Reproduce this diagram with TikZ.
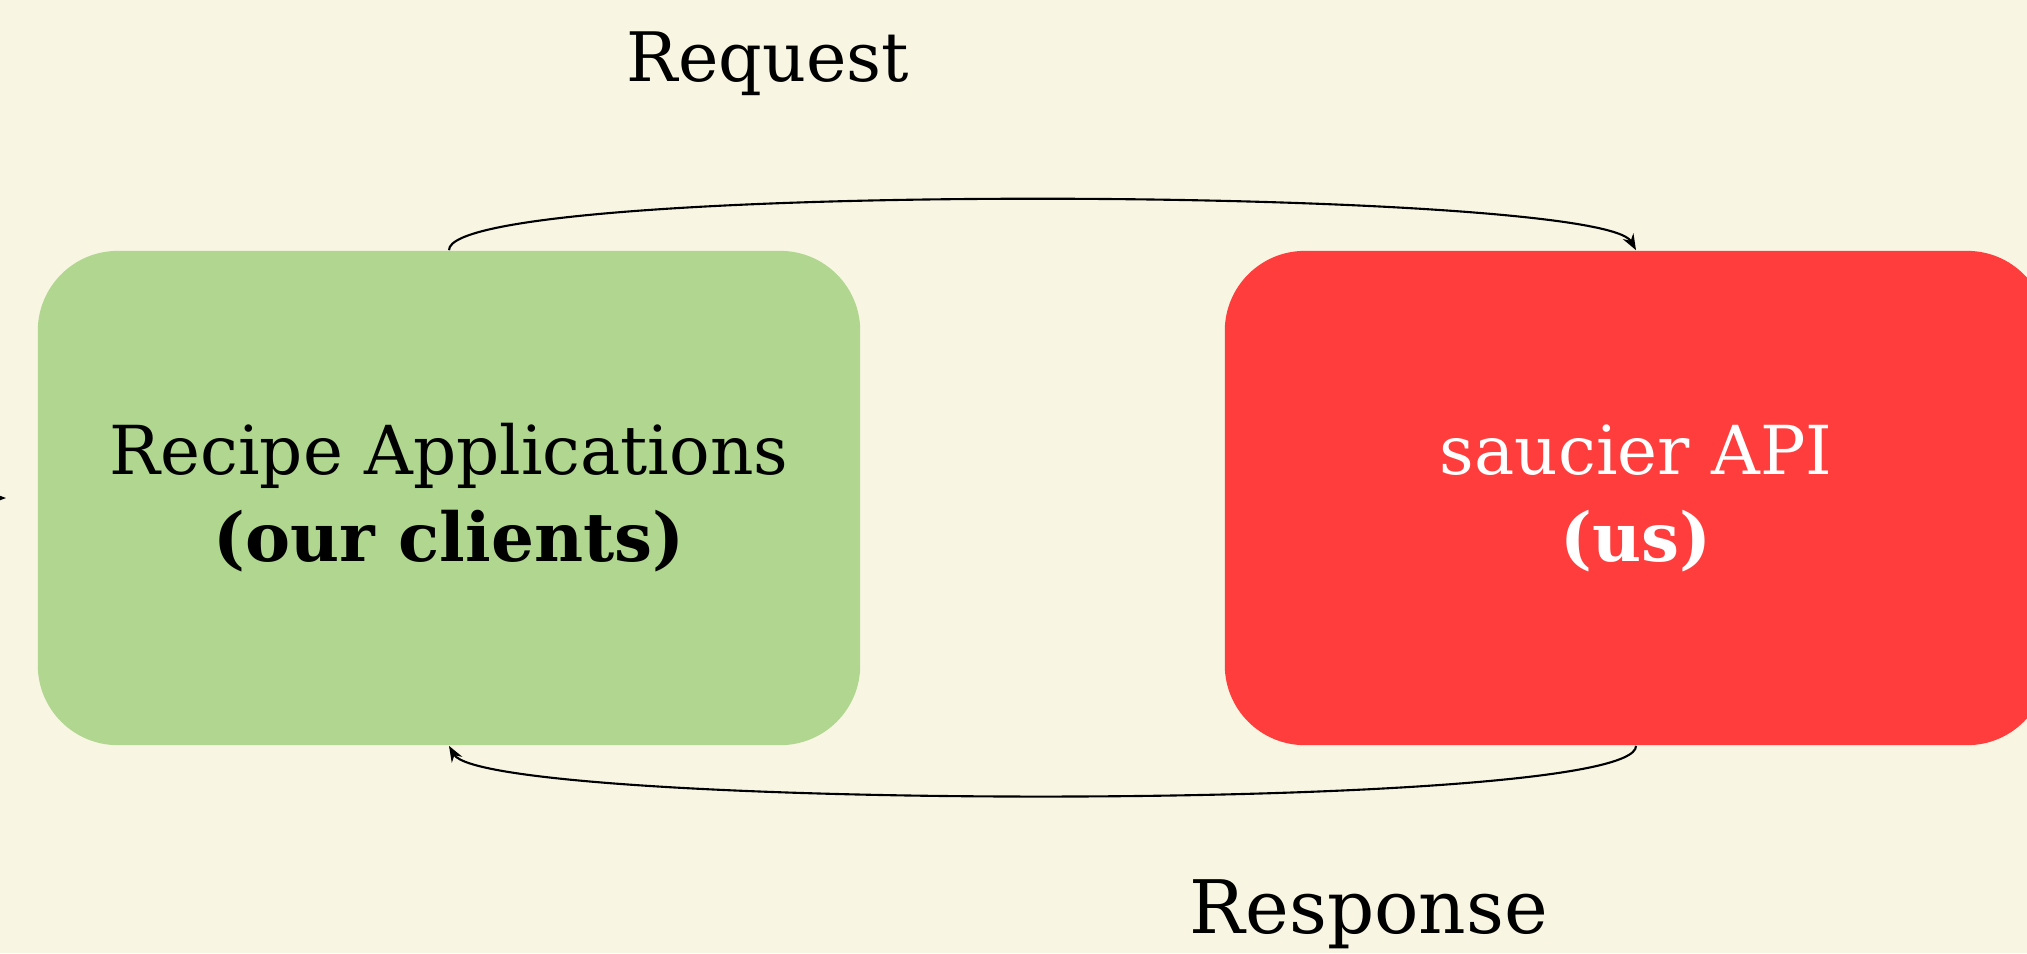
\documentclass[tikz,border=0pt]{standalone}
\usepackage{fontspec}
\setmainfont{DejaVu Serif}
\usetikzlibrary{arrows.meta}
\definecolor{paper}{RGB}{248,246,227}
\definecolor{clientgreen}{RGB}{176,214,144}
\definecolor{apired}{RGB}{255,61,61}
\tikzset{
  box/.style={rounded corners=0.8cm,minimum width=8.22cm,minimum height=4.94cm,
    align=center,inner sep=0pt,font=\fontsize{19.2}{24.7}\selectfont},
  flow/.style={-{Stealth[length=0.16cm,width=0.12cm]},line width=0.6pt},
  msgtext/.style={inner sep=0pt,anchor=base,font=\fontsize{19.4}{23}\selectfont}
}
\begin{document}
\begin{tikzpicture}[x=0.01cm,y=-0.01cm]
\fill[paper] (0,0) rectangle (2027,953);
\useasboundingbox (0,0) rectangle (2027,953);
\node[box,fill=clientgreen] (clients) at (449,498) {Recipe Applications\\\textbf{(our clients)}};
\node[box,fill=apired,text=white] (api) at (1636,498) {saucier API\\\textbf{(us)}};
\node[msgtext] (req) at (768,81) {Request};
\node[msgtext,font=\fontsize{21}{25}\selectfont] (resp) at (1369,933) {Response};
% arrow coming in from the left edge
\coordinate (offleft) at (-40,498);
\coordinate (tipleft) at (6,498);
\draw[flow] (offleft) -- (tipleft);
\draw[flow] (clients.north) .. controls (449,180) and (1600,186) .. (api.north);
\draw[flow] (api.south) .. controls (1637,814) and (486,810) .. (clients.south);
\end{tikzpicture}
\end{document}
